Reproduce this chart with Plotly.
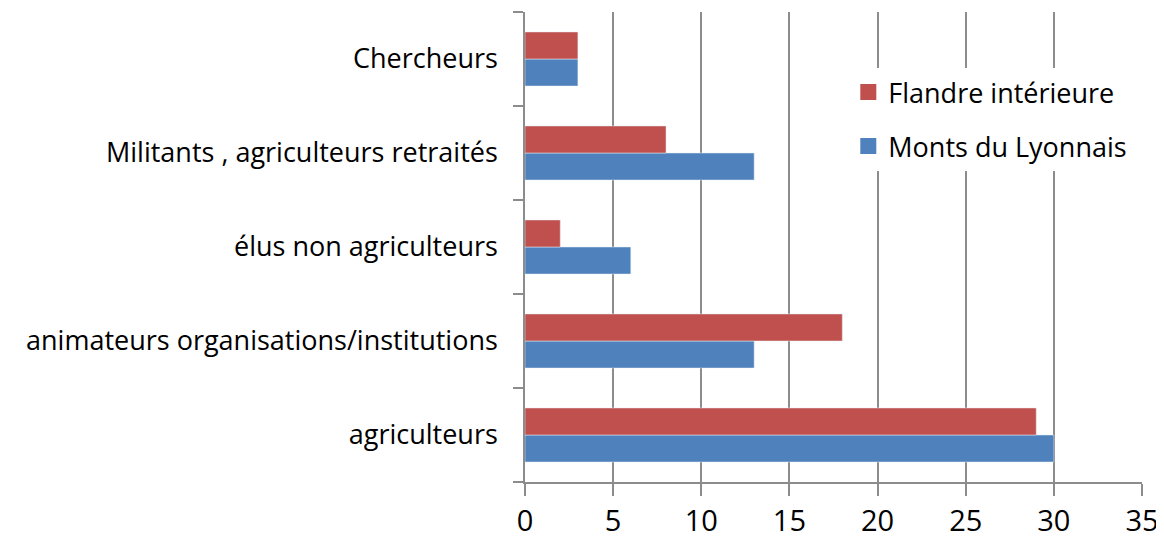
import plotly.graph_objects as go

categories = ["agriculteurs", "animateurs organisations/institutions", "élus non agriculteurs",
              "Militants , agriculteurs retraités", "Chercheurs"]
flandre = [29, 18, 2, 8, 3]
monts = [30, 13, 6, 13, 3]
x_ticks = [0, 5, 10, 15, 20, 25, 30, 35]

FONT = "Open Sans"
GRID = "#8c8c8c"
RED = "#C0504D"
BLUE = "#4F81BD"

fig = go.Figure()
fig.add_trace(go.Bar(y=categories, x=monts, orientation="h", name="Monts du Lyonnais",
                     marker=dict(color=BLUE), showlegend=False))
fig.add_trace(go.Bar(y=categories, x=flandre, orientation="h", name="Flandre intérieure",
                     marker=dict(color=RED), showlegend=False))
# legend entries (larger square swatches)
fig.add_trace(go.Scatter(x=[None], y=[None], mode="markers", name="Flandre intérieure",
                         marker=dict(symbol="square", size=16, color=RED),
                         legendgroup="f"))
fig.add_trace(go.Scatter(x=[None], y=[None], mode="markers", name="Monts du Lyonnais",
                         marker=dict(symbol="square", size=16, color=BLUE),
                         legendgroup="m"))

# page body has an 8px default margin: size the figure to fit the 1164x539 window
fig.update_layout(
    width=1156, height=531,
    margin=dict(l=517, r=22, t=4, b=57),
    paper_bgcolor="white", plot_bgcolor="white",
    barmode="group", bargap=0.425, bargroupgap=0,
    font=dict(family=FONT, size=27, color="#000000"),
    showlegend=True,
    legend=dict(x=0.524, y=0.881, xanchor="left", yanchor="top", traceorder="grouped",
                bgcolor="rgba(255,255,255,1)", font=dict(size=27),
                itemsizing="trace", tracegroupgap=16),
    xaxis=dict(range=[0, 35], tickvals=x_ticks, showgrid=True, gridcolor=GRID, gridwidth=1.5,
               zeroline=False, showline=True, linecolor=GRID, linewidth=1.5,
               ticks="outside", ticklen=12, tickcolor=GRID, tickwidth=1.5,
               tickfont=dict(size=29), ticklabeloverflow="allow",
               automargin=False, fixedrange=True),
    yaxis=dict(categoryorder="array", categoryarray=categories, showgrid=False,
               showline=True, linecolor=GRID, linewidth=1.5,
               ticks="outside", tickson="boundaries", ticklen=10, tickcolor=GRID, tickwidth=1.5,
               ticklabelstandoff=20, tickfont=dict(size=27), automargin=False),
)

fig.write_html("out.html")
